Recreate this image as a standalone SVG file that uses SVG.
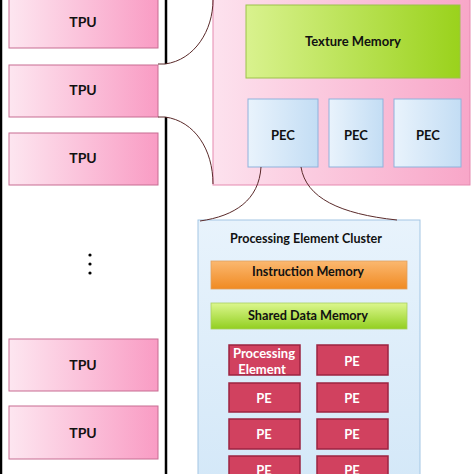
<svg xmlns="http://www.w3.org/2000/svg" width="474" height="474" viewBox="0 0 474 474">
<defs>
<linearGradient id="gTpu" x1="0" y1="0" x2="1" y2="0"><stop offset="0" stop-color="#fde6f0"/><stop offset="1" stop-color="#f99cc4"/></linearGradient>
<linearGradient id="gBig" x1="0" y1="0" x2="1" y2="0"><stop offset="0" stop-color="#fde2ee"/><stop offset="1" stop-color="#f8a6c8"/></linearGradient>
<linearGradient id="gTex" x1="0" y1="0" x2="1" y2="0"><stop offset="0" stop-color="#d9f28e"/><stop offset="1" stop-color="#9ad21c"/></linearGradient>
<linearGradient id="gPec" x1="0" y1="0" x2="1" y2="0"><stop offset="0" stop-color="#e9f3fc"/><stop offset="1" stop-color="#c3ddf4"/></linearGradient>
<linearGradient id="gClu" x1="0" y1="0" x2="0" y2="1"><stop offset="0" stop-color="#e8f3fc"/><stop offset="1" stop-color="#d4e8f8"/></linearGradient>
<linearGradient id="gIns" x1="0" y1="0" x2="0" y2="1"><stop offset="0" stop-color="#fbb870"/><stop offset="1" stop-color="#f08a22"/></linearGradient>
<linearGradient id="gSh" x1="0" y1="0" x2="0" y2="1"><stop offset="0" stop-color="#dcf78e"/><stop offset="1" stop-color="#92cf20"/></linearGradient>
</defs>
<style>
.tpu{fill:url(#gTpu);stroke:#c76d92;stroke-width:1}
.t{font-family:Lato,"Liberation Sans",sans-serif;font-weight:bold;fill:#111;text-anchor:middle;dominant-baseline:central}
.tpt{font-size:14px}
.pec{fill:url(#gPec);stroke:#8fb2dc;stroke-width:1}
.pe{fill:#d1415f;stroke:#9c2340;stroke-width:1.5}
.w{fill:#fff;font-size:13px}
.c{fill:none;stroke:#5a2a2a;stroke-width:1}
</style>
<g id="bus">
<line x1="1" y1="0" x2="1" y2="474" stroke="#000" stroke-width="2.5"/>
<line x1="166" y1="0" x2="166" y2="64" stroke="#000" stroke-width="2.5"/>
<line x1="166" y1="117" x2="166" y2="474" stroke="#000" stroke-width="2.5"/>
</g>
<g id="tpu1"><rect class="tpu" x="9" y="-6" width="149" height="54"/><text class="t tpt" x="83" y="21">TPU</text></g>
<g id="tpu2"><rect class="tpu" x="9" y="65" width="149" height="52"/><text class="t tpt" x="83" y="89">TPU</text></g>
<g id="tpu3"><rect class="tpu" x="9" y="133" width="149" height="52"/><text class="t tpt" x="83" y="157">TPU</text></g>
<g id="dots" fill="#000"><circle cx="90" cy="255" r="1.6"/><circle cx="90" cy="264" r="1.6"/><circle cx="90" cy="273" r="1.6"/></g>
<g id="tpu4"><rect class="tpu" x="9" y="339" width="149" height="52"/><text class="t tpt" x="83" y="364">TPU</text></g>
<g id="tpu5"><rect class="tpu" x="9" y="406" width="149" height="53"/><text class="t tpt" x="83" y="432">TPU</text></g>
<g id="tpuDetail"><rect x="213" y="-6" width="257" height="191" fill="url(#gBig)" stroke="#e58ab0" stroke-width="1"/></g>
<g id="texture"><rect x="246" y="5" width="214" height="73" fill="url(#gTex)" stroke="#9cc24a" stroke-width="1"/><text class="t" x="353" y="41" font-size="13">Texture Memory</text></g>
<g id="pec1"><rect class="pec" x="248" y="99" width="70" height="68"/><text class="t" x="283" y="135" font-size="13">PEC</text></g>
<g id="pec2"><rect class="pec" x="329" y="99" width="54" height="68"/><text class="t" x="356" y="135" font-size="13">PEC</text></g>
<g id="pec3"><rect class="pec" x="394" y="99" width="67" height="68"/><text class="t" x="428" y="135" font-size="13">PEC</text></g>
<g id="cluster">
<rect x="198" y="220" width="222" height="260" fill="url(#gClu)" stroke="#a3c6e4" stroke-width="1"/>
<text class="t" x="306" y="238" font-size="12.5" textLength="152" lengthAdjust="spacingAndGlyphs">Processing Element Cluster</text>
</g>
<g id="instr"><rect x="211" y="261" width="196" height="28" fill="url(#gIns)" stroke="#e0a060" stroke-width="0.8"/><text class="t" x="308" y="271" font-size="12.5" textLength="112" lengthAdjust="spacingAndGlyphs">Instruction Memory</text></g>
<g id="shared"><rect x="211" y="303" width="196" height="26" fill="url(#gSh)" stroke="#a8d060" stroke-width="0.8"/><text class="t" x="308" y="315" font-size="12.5" textLength="120" lengthAdjust="spacingAndGlyphs">Shared Data Memory</text></g>
<g id="pe1"><rect class="pe" x="229" y="345" width="71" height="30"/><text class="t w" x="264" y="353" font-size="12.5">Processing</text><text class="t w" x="262" y="369" font-size="12.5">Element</text></g>
<g id="pe2"><rect class="pe" x="317" y="345" width="71" height="30"/><text class="t w" x="352" y="361">PE</text></g>
<g id="pe3"><rect class="pe" x="229" y="383" width="71" height="29"/><text class="t w" x="264" y="398">PE</text></g>
<g id="pe4"><rect class="pe" x="317" y="383" width="71" height="29"/><text class="t w" x="352" y="398">PE</text></g>
<g id="pe5"><rect class="pe" x="229" y="419" width="71" height="30"/><text class="t w" x="264" y="434">PE</text></g>
<g id="pe6"><rect class="pe" x="317" y="419" width="71" height="30"/><text class="t w" x="352" y="434">PE</text></g>
<g id="pe7"><rect class="pe" x="229" y="456" width="71" height="30"/><text class="t w" x="264" y="470">PE</text></g>
<g id="pe8"><rect class="pe" x="317" y="456" width="71" height="30"/><text class="t w" x="352" y="470">PE</text></g>
<g id="connectors">
<path class="c" d="M158 64 L165 64 C195 60 213 30 213 0"/>
<path class="c" d="M158 117 L165 117 C195 121 213 150 213 184"/>
<path class="c" d="M261 167 C259 200 235 216 200 221"/>
<path class="c" d="M301 167 C306 198 340 214 397 220"/>
</g>
</svg>
